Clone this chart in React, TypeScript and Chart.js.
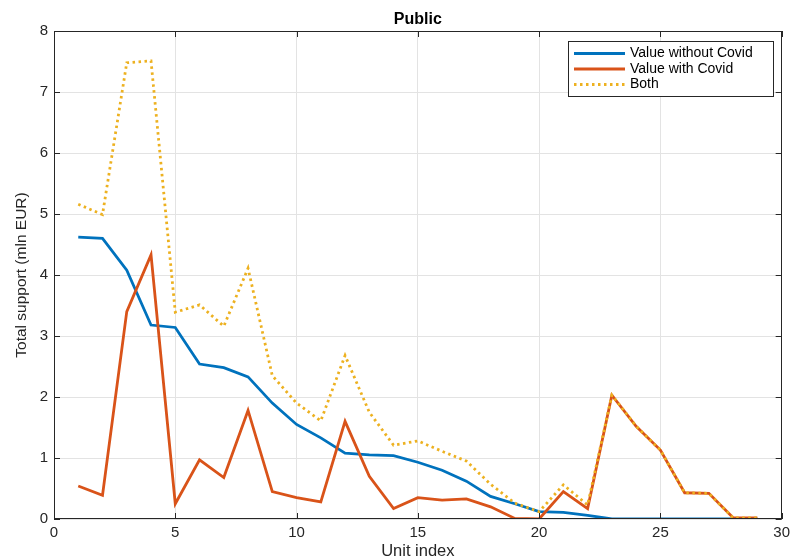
import React, { useEffect, useRef } from "react";
import { Chart, registerables } from "chart.js";

Chart.register(...registerables);

const chartTitle = "Public";
const xLabel = "Unit index";
const yLabel = "Total support (mln EUR)";
const seriesNames = ["Value without Covid", "Value with Covid", "Both"];

const units = [1, 2, 3, 4, 5, 6, 7, 8, 9, 10, 11, 12, 13, 14, 15, 16, 17, 18, 19, 20, 21, 22, 23, 24, 25, 26, 27, 28, 29];
const withoutCovid = [4.62, 4.6, 4.08, 3.18, 3.14, 2.54, 2.48, 2.33, 1.9, 1.55, 1.33, 1.08, 1.05, 1.04, 0.93, 0.8, 0.62, 0.37, 0.25, 0.12, 0.11, 0.06, 0.0, 0.0, 0.0, 0.0, 0.0, 0.0, 0.0];
const withCovid = [0.54, 0.39, 3.4, 4.33, 0.25, 0.97, 0.68, 1.78, 0.45, 0.35, 0.28, 1.6, 0.7, 0.17, 0.35, 0.31, 0.33, 0.2, 0.01, 0.0, 0.45, 0.17, 2.03, 1.52, 1.13, 0.43, 0.42, 0.02, 0.02];
const both = [5.16, 4.99, 7.48, 7.51, 3.39, 3.51, 3.16, 4.11, 2.35, 1.9, 1.61, 2.68, 1.75, 1.21, 1.28, 1.11, 0.95, 0.57, 0.26, 0.12, 0.56, 0.23, 2.03, 1.52, 1.13, 0.43, 0.42, 0.02, 0.02];

const xMin = 0, xMax = 30, xStep = 5;
const yMin = 0, yMax = 8, yStep = 1;

const colors = ["#0072BD", "#D95319", "#EDB120"];
const FONT = "'Liberation Sans', Arial, Helvetica, sans-serif";
const TEXT = "#262626";

const toPoints = (ys: number[]) => units.map((u, i) => ({ x: u, y: ys[i] }));

const framePlugin = {
  id: "matlabFrame",
  afterDraw(chart: any) {
    const { ctx, chartArea } = chart;
    const { left, right, top, bottom } = chartArea;
    ctx.save();
    ctx.strokeStyle = TEXT;
    ctx.lineWidth = 1;
    ctx.strokeRect(Math.round(left) + 0.5, Math.round(top) + 0.5, Math.round(right - left) - 1, Math.round(bottom - top) - 1);
    const xs = chart.scales.x;
    const ys = chart.scales.y;
    ctx.beginPath();
    for (let v = xMin; v <= xMax; v += xStep) {
      const px = Math.round(xs.getPixelForValue(v)) + 0.5;
      ctx.moveTo(px, bottom); ctx.lineTo(px, bottom - 6);
      ctx.moveTo(px, top); ctx.lineTo(px, top + 6);
    }
    for (let v = yMin; v <= yMax; v += yStep) {
      const py = Math.round(ys.getPixelForValue(v)) + 0.5;
      ctx.moveTo(left, py); ctx.lineTo(left + 6, py);
      ctx.moveTo(right, py); ctx.lineTo(right - 6, py);
    }
    ctx.stroke();

    ctx.fillStyle = "#000";
    ctx.font = `bold 16px ${FONT}`;
    ctx.textAlign = "center";
    ctx.textBaseline = "middle";
    ctx.fillText(chartTitle, (left + right) / 2, 20);

    const bx = 568, by = 41, bw = 205, bh = 55;
    ctx.fillStyle = "#fff";
    ctx.fillRect(bx, by, bw, bh);
    ctx.strokeStyle = TEXT;
    ctx.lineWidth = 1;
    ctx.strokeRect(bx + 0.5, by + 0.5, bw, bh);
    ctx.font = `14px ${FONT}`;
    ctx.textAlign = "left";
    ctx.textBaseline = "middle";
    const rowsY = [53.5, 69, 84.5];
    chart.data.datasets.forEach((ds: any, i: number) => {
      const y = rowsY[i];
      ctx.beginPath();
      ctx.strokeStyle = ds.borderColor;
      ctx.lineWidth = ds.borderWidth;
      ctx.setLineDash(ds.borderDash || []);
      ctx.moveTo(574, y);
      ctx.lineTo(625, y);
      ctx.stroke();
      ctx.setLineDash([]);
      ctx.fillStyle = "#000";
      ctx.fillText(ds.label, 630, y);
    });
    ctx.restore();
  },
};

export default function App() {
  const canvasRef = useRef<HTMLCanvasElement | null>(null);

  useEffect(() => {
    document.body.style.margin = "0";
    const canvas = canvasRef.current;
    if (!canvas) return;
    const chart = new Chart(canvas, {
      type: "line",
      data: {
        datasets: [
          {
            label: seriesNames[0],
            data: toPoints(withoutCovid),
            borderColor: colors[0],
            backgroundColor: colors[0],
            borderWidth: 2.8,
            pointRadius: 0,
            tension: 0,
            order: 2,
          },
          {
            label: seriesNames[1],
            data: toPoints(withCovid),
            borderColor: colors[1],
            backgroundColor: colors[1],
            borderWidth: 2.8,
            pointRadius: 0,
            tension: 0,
            order: 1,
          },
          {
            label: seriesNames[2],
            data: toPoints(both),
            borderColor: colors[2],
            backgroundColor: colors[2],
            borderWidth: 2.8,
            borderDash: [2.5, 3.5],
            pointRadius: 0,
            tension: 0,
            order: 0,
          },
        ],
      },
      options: {
        animation: false,
        responsive: false,
        maintainAspectRatio: false,
        layout: { padding: { left: 0, right: 9, top: 31, bottom: 0 } },
        plugins: {
          legend: { display: false },
          title: { display: false },
          tooltip: { enabled: false },
        },
        scales: {
          x: {
            type: "linear",
            min: xMin,
            max: xMax,
            ticks: { stepSize: xStep, color: TEXT, font: { family: FONT, size: 15 }, padding: 5, maxRotation: 0 },
            grid: { color: "#e3e3e3", drawTicks: false, lineWidth: 1 },
            border: { display: false },
            title: { display: true, text: xLabel, color: TEXT, font: { family: FONT, size: 16.5 }, padding: { top: 0, bottom: -1 } },
            afterFit: (s: any) => { s.height = 41; },
          },
          y: {
            type: "linear",
            min: yMin,
            max: yMax,
            ticks: { stepSize: yStep, color: TEXT, font: { family: FONT, size: 15 }, padding: 6 },
            grid: { color: "#e3e3e3", drawTicks: false, lineWidth: 1 },
            border: { display: false },
            title: { display: true, text: yLabel, color: TEXT, font: { family: FONT, size: 15.5 }, padding: { top: 12, bottom: 0 } },
            afterFit: (s: any) => { s.width = 54; },
          },
        },
      },
      plugins: [framePlugin],
    });
    return () => chart.destroy();
  }, []);

  return (
    <div style={{ position: "fixed", left: 0, top: 0, width: 795, height: 560, background: "#fff" }}>
      <canvas ref={canvasRef} width={795} height={560} style={{ width: 795, height: 560, display: "block" }} />
    </div>
  );
}
